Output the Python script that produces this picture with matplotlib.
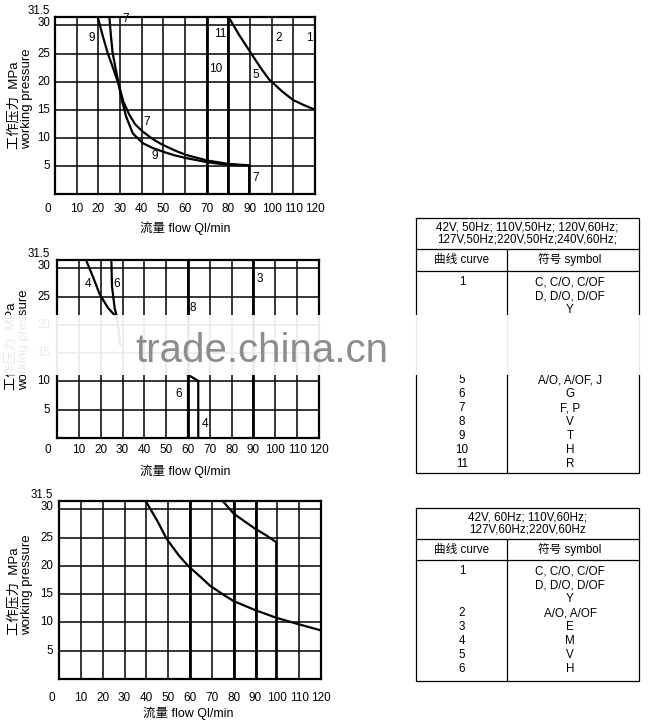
import matplotlib
matplotlib.use('Agg')
import matplotlib.pyplot as plt
from matplotlib.transforms import offset_copy
from matplotlib.patches import Rectangle

W, H = 656, 725

# grid / ticks
grid_x = [10, 20, 30, 40, 50, 60, 70, 80, 90, 100, 110]
grid_y = [5, 10, 15, 20, 25, 30]
xtick_vals = [0, 10, 20, 30, 40, 50, 60, 70, 80, 90, 100, 110, 120]
xtick_labels = ['0', '10', '20', '30', '40', '50', '60', '70', '80', '90', '100', '110', '120']
ytick_vals = [5, 10, 15, 20, 25, 30, 31.5]
ytick_labels = ['5', '10', '15', '20', '25', '30', '31.5']

# chart 1 curves (50 Hz)
c9_x = [19.7, 22, 24.3, 27, 29.4, 31, 32.8, 35.9, 40.5, 45, 49.7, 55, 60.4, 70.4, 80.1, 89.6]
c9_y = [31.5, 28.2, 25.1, 22.2, 19.5, 16.5, 13.8, 10.8, 9.05, 8.2, 7.55, 6.9, 6.4, 5.65, 5.18, 5.1]
c7_x = [25.1, 25.8, 26.6, 28, 29.4, 31.5, 34.3, 37, 40.5, 45, 49.7, 55, 60.4, 70.4, 80.1, 89.6, 89.6]
c7_y = [31.5, 28.2, 25.1, 22.3, 19.5, 16.5, 14.1, 12.4, 11.1, 9.8, 8.75, 7.8, 6.96, 5.95, 5.36, 5.1, 0]
c5_x = [80.1, 85, 90.4, 95, 98.8, 105, 110, 115, 120]
c5_y = [31.5, 28.3, 25.1, 22.4, 20.4, 18.2, 16.7, 15.8, 15.0]
c10_x = 70
c11_x = 80
lab1 = ['9', '7', '7', '9', '7', '11', '10', '5', '2', '1']
lab1_x = [16.9, 32.5, 42.3, 46.2, 92.7, 76.3, 74.3, 92.7, 103.1, 117.4]
lab1_y = [27.7, 31.2, 12.9, 6.7, 2.8, 28.4, 22.3, 21.2, 27.8, 27.7]

# chart 2 curves
c4_x = [13.3, 16.6, 19.6, 23.4, 27.2, 28.3, 29.0]
c4_y = [31.5, 28.4, 25.4, 23.0, 21.4, 19.0, 16.5]
c6_x = [24.9, 25.2, 26.4, 27.5]
c6_y = [31.5, 26.8, 23.0, 21.3]
c4b_x = [58.6, 64.7, 64.7]
c4b_y = [11.5, 10.1, 0]
c6b_x = [60, 60]
c6b_y = [11.5, 0]
c8_x = 60
c3_x = 90
lab2 = ['4', '6', '8', '3', '6', '4']
lab2_x = [14.3, 27.5, 62.3, 92.8, 55.9, 67.7]
lab2_y = [27.3, 27.3, 23.0, 28.1, 7.7, 2.5]

# chart 3 curves (60 Hz)
ca_x = [39.7, 45, 49.3, 55, 59.2, 65, 69.2, 75, 79.9, 89.8, 99.8, 109.7, 120]
ca_y = [31.5, 28.0, 24.8, 21.8, 20.0, 18.0, 16.5, 15.0, 13.8, 12.2, 10.8, 9.7, 8.6]
cb_x = [75, 79.9, 85, 89.8, 95, 99.5, 99.5]
cb_y = [31.5, 29.3, 27.9, 26.6, 25.4, 24.2, 0]
thick3_x = [60, 80, 90]

# tables
t1_header = '42V, 50Hz; 110V,50Hz; 120V,60Hz;\n127V,50Hz;220V,50Hz;240V,60Hz;'
t1_curve = ['1', '', '', '', '', '', '', '5', '6', '7', '8', '9', '10', '11']
t1_symbol = ['C, C/O, C/OF', 'D, D/O, D/OF', 'Y', '', '', '', '',
             'A/O, A/OF, J', 'G', 'F, P', 'V', 'T', 'H', 'R']
t2_header = '42V, 60Hz; 110V,60Hz;\n127V,60Hz;220V,60Hz'
t2_curve = ['1', '', '', '2', '3', '4', '5', '6']
t2_symbol = ['C, C/O, C/OF', 'D, D/O, D/OF', 'Y', 'A/O, A/OF', 'E', 'M', 'V', 'H']

plt.rcParams['font.family'] = ['Liberation Sans', 'Noto Sans CJK SC', 'DejaVu Sans']

fig = plt.figure(figsize=(W / 100, H / 100), dpi=100)
fig.patch.set_facecolor('white')


def px_rect(l, t, r, b):
    return [l / W, 1 - b / H, (r - l) / W, (b - t) / H]


def setup_chart(rect, xpad, ypad, zero_dx):
    ax = fig.add_axes(px_rect(*rect))
    ax.set_xlim(0, 120)
    ax.set_ylim(0, 31.5)
    ax.set_xticks([])
    ax.set_yticks([])
    for s in ax.spines.values():
        s.set_linewidth(1.6)
    for x in grid_x:
        ax.axvline(x, color='black', lw=1.1)
    for y in grid_y:
        ax.axhline(y, color='black', lw=1.1)
    for v, lab in zip(ytick_vals, ytick_labels):
        dy = 6 if v == 31.5 else (2 if v == 30 else 0)
        tr = offset_copy(ax.get_yaxis_transform(), fig=fig, x=-ypad, y=dy, units='dots')
        ax.text(0, v, lab, transform=tr, ha='right', va='center', fontsize=8.3)
    for v, lab in zip(xtick_vals, xtick_labels):
        dx = zero_dx if v == 0 else 0
        tr = offset_copy(ax.get_xaxis_transform(), fig=fig, x=dx, y=-xpad, units='dots')
        ax.text(v, 0, lab, transform=tr, ha='center', va='center', fontsize=8.5)
    return ax


def axis_titles(xl, yl):
    fig.text(xl[0] / W, 1 - xl[1] / H, '流量 flow Ql/min', ha='center', va='center', fontsize=9)
    fig.text(yl[0] / W, 1 - yl[1] / H, '工作压力  MPa\nworking pressure', rotation=90,
             ha='center', va='center', multialignment='left', fontsize=9.5, linespacing=1.05)


# chart 1
ax1 = setup_chart((55, 17, 315, 194), 15, 5, -7)
ax1.axvline(c10_x, color='black', lw=2.0)
ax1.axvline(c11_x, color='black', lw=2.0)
ax1.plot(c9_x, c9_y, color='black', lw=1.6)
ax1.plot(c7_x, c7_y, color='black', lw=1.6)
ax1.plot(c5_x, c5_y, color='black', lw=1.6)
for t, x, y in zip(lab1, lab1_x, lab1_y):
    ax1.text(x, y, t, ha='center', va='center', fontsize=8.5)
axis_titles((185, 228), (20.5, 99))

# chart 2
ax2 = setup_chart((57, 260, 319, 438), 12, 7, -9)
ax2.axvline(c8_x, color='black', lw=2.0)
ax2.axvline(c3_x, color='black', lw=2.0)
ax2.plot(c4_x, c4_y, color='black', lw=1.6)
ax2.plot(c6_x, c6_y, color='black', lw=1.6)
ax2.plot(c4b_x, c4b_y, color='black', lw=1.6)
ax2.plot(c6b_x, c6b_y, color='black', lw=1.6)
for t, x, y in zip(lab2, lab2_x, lab2_y):
    ax2.text(x, y, t, ha='center', va='center', fontsize=8.5)
axis_titles((185, 471), (17.5, 340))

# chart 3
ax3 = setup_chart((59, 501, 321, 679), 19, 6, -7)
for x in thick3_x:
    ax3.axvline(x, color='black', lw=2.0)
ax3.plot(ca_x, ca_y, color='black', lw=1.6)
ax3.plot(cb_x, cb_y, color='black', lw=1.6)
axis_titles((188, 713), (20.5, 585))

# overlay for tables and watermark, in pixel coordinates
ov = fig.add_axes([0, 0, 1, 1])
ov.set_xlim(0, W)
ov.set_ylim(H, 0)
ov.axis('off')
ov.patch.set_alpha(0)
ov.set_zorder(5)


def draw_table(top, head_bot, col_bot, bottom, header, curves, symbols):
    left, right, mid = 416, 639, 507
    kw = dict(color='black', lw=0.9)
    ov.plot([left, right, right, left, left], [top, top, bottom, bottom, top], **kw)
    ov.plot([left, right], [head_bot, head_bot], **kw)
    ov.plot([left, right], [col_bot, col_bot], **kw)
    ov.plot([mid, mid], [head_bot, bottom], **kw)
    ov.text((left + right) / 2, (top + head_bot) / 2, header, ha='center', va='center',
            fontsize=8.4, linespacing=0.95)
    ov.text(462, (head_bot + col_bot) / 2, '曲线 curve', ha='center', va='center', fontsize=8.4)
    ov.text(570, (head_bot + col_bot) / 2, '符号 symbol', ha='center', va='center', fontsize=8.4)
    y0 = col_bot + 11
    for i, (c, s) in enumerate(zip(curves, symbols)):
        ov.text(462, y0 + i * 14, c, ha='center', va='center', fontsize=8.4)
        ov.text(570, y0 + i * 14, s, ha='center', va='center', fontsize=8.4)


draw_table(218, 249, 271, 473, t1_header, t1_curve, t1_symbol)
draw_table(508, 539, 560, 681, t2_header, t2_curve, t2_symbol)

# watermark band
ov.add_patch(Rectangle((0, 315), W, 60, facecolor='white', edgecolor='none', alpha=0.92, zorder=10))
ov.text(262, 362, 'trade.china.cn', ha='center', va='baseline', fontsize=29, color='#8c8c8c',
        zorder=11)

fig.savefig('out.png', dpi=100, facecolor='white')
